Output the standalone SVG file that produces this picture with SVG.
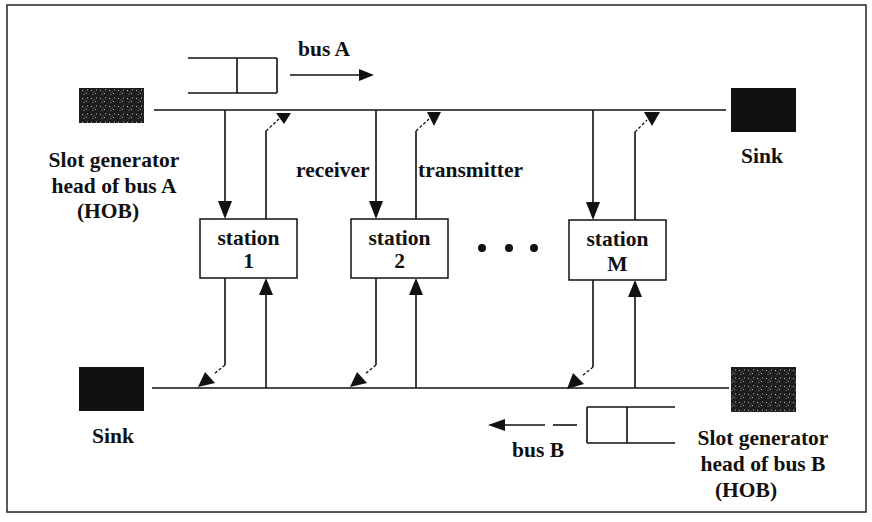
<svg xmlns="http://www.w3.org/2000/svg" width="872" height="522" viewBox="0 0 872 522">
<style>
  .t { font-family: "Liberation Serif", "Times New Roman", serif; font-size: 21.5px; font-weight: bold; fill: #111; }
  .c { text-anchor: middle; }
  .ln { stroke: #111; stroke-width: 1.6; fill: none; }
  .dsh { stroke: #111; stroke-width: 1.3; fill: none; stroke-dasharray: 3 2; }
  .box { fill: #fff; stroke: #111; stroke-width: 1.5; }
  .ah { fill: #111; stroke: none; }
</style>
<defs>
  <pattern id="noise" width="9" height="8" patternUnits="userSpaceOnUse">
    <rect width="9" height="8" fill="#1e1e1e"/>
    <rect x="1" y="2" width="1" height="1" fill="#c8c8c8"/>
    <rect x="5" y="5" width="1" height="1" fill="#a0a0a0"/>
    <rect x="6" y="1" width="1" height="2" fill="#6a6a6a"/>
    <rect x="2" y="6" width="2" height="1" fill="#555"/>
    <rect x="3" y="3" width="2" height="2" fill="#3a3a3a"/>
  </pattern>
</defs>
<rect x="0" y="0" width="872" height="522" fill="#fff"/>
<rect x="7" y="5" width="859" height="507" fill="none" stroke="#222" stroke-width="1.5"/>

<g id="connectors">
  <!-- buses -->
  <line class="ln" x1="154" y1="110" x2="726" y2="110"/>
  <line class="ln" x1="152" y1="388" x2="729" y2="388"/>
  <!-- station 1 -->
  <line class="ln" x1="225" y1="110" x2="225" y2="203"/>
  <polygon class="ah" points="218,201 232,201 225,219"/>
  <line class="ln" x1="266" y1="219" x2="266" y2="131"/>
  <line class="dsh" x1="266" y1="131" x2="279" y2="119"/>
  <polygon class="ah" points="276,113 291,113 284,124"/>
  <line class="ln" x1="225" y1="278" x2="225" y2="365"/>
  <line class="dsh" x1="225" y1="365" x2="214" y2="374"/>
  <polygon class="ah" points="198,387 205,372 215,383"/>
  <line class="ln" x1="266" y1="388" x2="266" y2="292"/>
  <polygon class="ah" points="259,295 273,295 266,278"/>
  <!-- station 2 -->
  <line class="ln" x1="376" y1="110" x2="376" y2="203"/>
  <polygon class="ah" points="369,201 383,201 376,219"/>
  <line class="ln" x1="416" y1="219" x2="416" y2="131"/>
  <line class="dsh" x1="416" y1="131" x2="429" y2="119"/>
  <polygon class="ah" points="427,112 441,112 434,126"/>
  <line class="ln" x1="376" y1="278" x2="376" y2="365"/>
  <line class="dsh" x1="376" y1="365" x2="365" y2="374"/>
  <polygon class="ah" points="350,387 357,372 367,383"/>
  <line class="ln" x1="416" y1="388" x2="416" y2="292"/>
  <polygon class="ah" points="409,295 423,295 416,278"/>
  <!-- station M -->
  <line class="ln" x1="593" y1="110" x2="593" y2="204"/>
  <polygon class="ah" points="586,202 600,202 593,220"/>
  <line class="ln" x1="635" y1="220" x2="635" y2="132"/>
  <line class="dsh" x1="635" y1="132" x2="647" y2="120"/>
  <polygon class="ah" points="644,112 660,112 652,126"/>
  <line class="ln" x1="593" y1="280" x2="593" y2="367"/>
  <line class="dsh" x1="593" y1="367" x2="582" y2="376"/>
  <polygon class="ah" points="567,389 573,373 584,384"/>
  <line class="ln" x1="635" y1="388" x2="635" y2="294"/>
  <polygon class="ah" points="628,297 642,297 635,280"/>
  <!-- bus A direction -->
  <line class="ln" x1="290" y1="75" x2="362" y2="75"/>
  <polygon class="ah" points="374,75 359,69 359,81"/>
  <!-- bus B direction -->
  <line class="ln" x1="503" y1="425" x2="545" y2="425"/>
  <line class="ln" x1="553" y1="425" x2="577" y2="425"/>
  <polygon class="ah" points="488,425 505,419 505,431"/>
</g>

<g id="slots-busA">
  <line class="ln" x1="188" y1="58" x2="277" y2="58"/>
  <line class="ln" x1="188" y1="93" x2="277" y2="93"/>
  <line class="ln" x1="237" y1="58" x2="237" y2="93"/>
  <line class="ln" x1="277" y1="58" x2="277" y2="93"/>
  <text class="t" x="298" y="56">bus A</text>
</g>

<g id="slots-busB">
  <line class="ln" x1="587" y1="407" x2="675" y2="407"/>
  <line class="ln" x1="587" y1="443" x2="675" y2="443"/>
  <line class="ln" x1="587" y1="407" x2="587" y2="443"/>
  <line class="ln" x1="627" y1="407" x2="627" y2="443"/>
  <text class="t" x="512" y="457">bus B</text>
</g>

<g id="slotgenA">
  <rect x="79" y="88" width="65" height="35" fill="url(#noise)"/>
  <text class="t c" x="114" y="167">Slot generator</text>
  <text class="t c" x="114" y="193">head of bus A</text>
  <text class="t c" x="108" y="218">(HOB)</text>
</g>

<g id="sinkA">
  <rect x="731" y="88" width="65" height="44" fill="#111"/>
  <text class="t c" x="762" y="163">Sink</text>
</g>

<g id="sinkB">
  <rect x="79" y="367" width="65" height="44" fill="#111"/>
  <text class="t c" x="113" y="443">Sink</text>
</g>

<g id="slotgenB">
  <rect x="731" y="367" width="65" height="45" fill="url(#noise)"/>
  <text class="t c" x="763" y="445">Slot generator</text>
  <text class="t c" x="763" y="471">head of bus B</text>
  <text class="t c" x="746" y="497">(HOB)</text>
</g>

<g id="labels">
  <text class="t" x="296" y="177">receiver</text>
  <text class="t" x="418" y="177">transmitter</text>
</g>

<g id="station1">
  <rect class="box" x="200" y="219" width="97" height="59"/>
  <text class="t c" x="248.5" y="245">station</text>
  <text class="t c" x="248.5" y="268">1</text>
</g>

<g id="station2">
  <rect class="box" x="351" y="219" width="97" height="59"/>
  <text class="t c" x="399.5" y="245">station</text>
  <text class="t c" x="399.5" y="268">2</text>
</g>

<g id="ellipsis">
  <circle cx="482" cy="248" r="4" fill="#111"/>
  <circle cx="509" cy="248" r="4" fill="#111"/>
  <circle cx="534" cy="248" r="4" fill="#111"/>
</g>

<g id="stationM">
  <rect class="box" x="569" y="220" width="97" height="60"/>
  <text class="t c" x="617.5" y="246">station</text>
  <text class="t c" x="617.5" y="271">M</text>
</g>
</svg>
